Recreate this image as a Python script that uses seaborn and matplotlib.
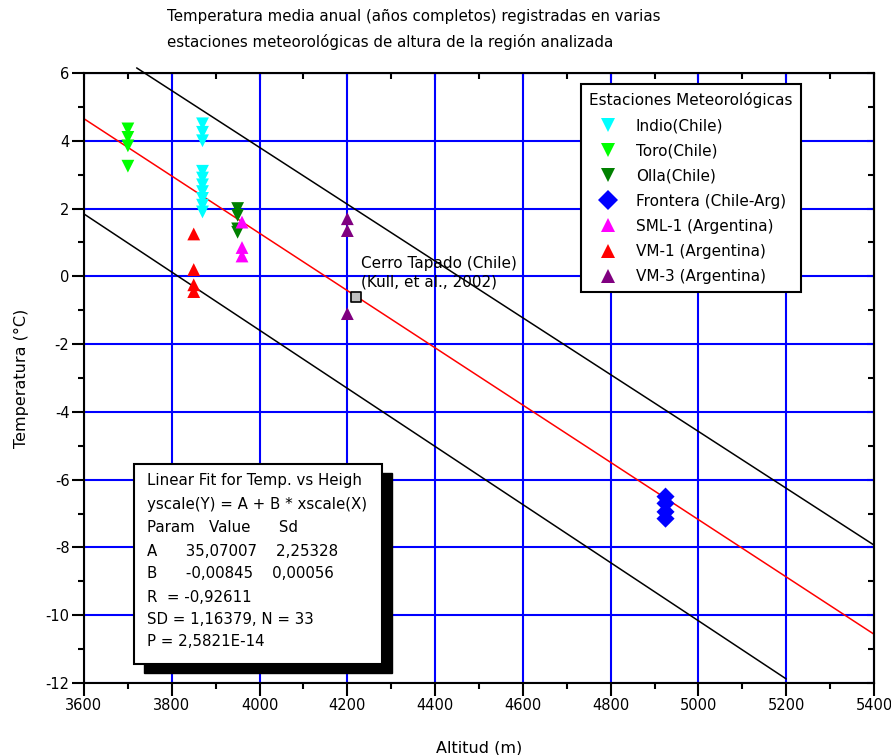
import numpy as np
import pandas as pd
import matplotlib
matplotlib.use("Agg")
import matplotlib.pyplot as plt
import seaborn as sns
from matplotlib.lines import Line2D
from matplotlib.patches import Rectangle
from matplotlib.ticker import MultipleLocator

# ---------------- data ----------------
stations = ["Indio(Chile)", "Toro(Chile)", "Olla(Chile)", "Frontera (Chile-Arg)",
            "SML-1 (Argentina)", "VM-1 (Argentina)", "VM-3 (Argentina)"]
station_alt = [3870, 3700, 3950, 4925, 3960, 3850, 4200]
indio_temp = [4.5, 4.25, 4.0, 3.1, 2.9, 2.7, 2.5, 2.3, 2.1, 1.9]
toro_temp = [4.35, 4.1, 3.85, 3.25]
olla_temp = [2.0, 1.8, 1.4, 1.3]
frontera_temp = [-6.5, -6.7, -6.95, -7.15]
sml_temp = [1.6, 0.85, 0.6]
vm1_temp = [1.25, 0.2, -0.25, -0.45]
vm3_temp = [1.7, 1.35, -1.1]
station_temps = [indio_temp, toro_temp, olla_temp, frontera_temp, sml_temp, vm1_temp, vm3_temp]

colors = ["#00FFFF", "#00FF00", "#008000", "#0000FF", "#FF00FF", "#FF0000", "#800080"]
markers = ["v", "v", "v", "D", "^", "^", "^"]

cerro_alt = [4220]
cerro_temp = [-0.6]

fit_A = 35.07007
fit_B = -0.00845
fit_alt = [3600, 5400]

upper_alt = [3720, 5400]
upper_temp = [6.15, -7.93]
lower_alt = [3600, 5200]
lower_temp = [1.84, -11.88]

x_ticks = [3600, 3800, 4000, 4200, 4400, 4600, 4800, 5000, 5200, 5400]
y_ticks = [6, 4, 2, 0, -2, -4, -6, -8, -10, -12]

fit_text = ["Linear Fit for Temp. vs Heigh",
            "yscale(Y) = A + B * xscale(X)",
            "Param   Value      Sd",
            "A      35,07007    2,25328",
            "B      -0,00845    0,00056",
            "R  = -0,92611",
            "SD = 1,16379, N = 33",
            "P = 2,5821E-14"]

# ---------------- build table ----------------
rows = []
for name, alt, temps in zip(stations, station_alt, station_temps):
    for t in temps:
        rows.append({"Altitud": alt, "Temperatura": t, "Estacion": name})
df = pd.DataFrame(rows)

sns.set_style("white")
plt.rcParams["font.family"] = ["DejaVu Sans"]
plt.rcParams["axes.unicode_minus"] = False
plt.rcParams["text.color"] = "black"
plt.rcParams["axes.labelcolor"] = "black"
plt.rcParams["xtick.color"] = "black"
plt.rcParams["ytick.color"] = "black"

fig = plt.figure(figsize=(8.91, 7.55), dpi=100)
ax = fig.add_axes([84 / 891, 1 - 683 / 755, 790 / 891, 610 / 755])

# grid
ax.set_xlim(3600, 5400)
ax.set_ylim(-12, 6)
ax.set_xticks(x_ticks)
ax.set_yticks(y_ticks)
ax.xaxis.set_minor_locator(MultipleLocator(100))
ax.yaxis.set_minor_locator(MultipleLocator(1))
ax.grid(True, which="major", color="#0000FF", linewidth=1.5, zorder=0)
ax.set_axisbelow(True)

# fit line & bands
fit_df = pd.DataFrame({"Altitud": fit_alt,
                       "Temperatura": [fit_A + fit_B * a for a in fit_alt]})
sns.lineplot(data=fit_df, x="Altitud", y="Temperatura", color="#FF0000", lw=1.1, ax=ax, zorder=2)
ax.plot(upper_alt, upper_temp, color="black", lw=1.1, zorder=2, clip_on=False)
ax.plot(lower_alt, lower_temp, color="black", lw=1.1, zorder=2)

# stations
sns.scatterplot(data=df, x="Altitud", y="Temperatura", hue="Estacion", style="Estacion",
                hue_order=stations, style_order=stations,
                palette=dict(zip(stations, colors)), markers=dict(zip(stations, markers)),
                s=85, linewidth=0, legend=False, ax=ax, zorder=3)

# Cerro Tapado
ax.scatter(cerro_alt, cerro_temp, marker="s", s=55, color="#C0C0C0",
           edgecolor="black", linewidth=1.2, zorder=4)
ax.text(cerro_alt[0] + 12, cerro_temp[0] + 1.2, "Cerro Tapado (Chile)\n(Kull, et al., 2002)",
        fontsize=11, va="top", ha="left", linespacing=1.3, zorder=5)

# legend
handles = [Line2D([], [], linestyle="none", marker=m, color=c, markersize=10, markeredgewidth=0)
           for m, c in zip(markers, colors)]
leg = ax.legend(handles, stations, title="Estaciones Meteorológicas", loc="upper left",
                bbox_to_anchor=((581 - 84) / 790, (683 - 84) / 610), fontsize=11,
                title_fontsize=11, frameon=True, fancybox=False, framealpha=1,
                edgecolor="black", borderpad=0.55, labelspacing=0.66, handletextpad=1.0,
                handlelength=1.6, borderaxespad=0)
leg.get_frame().set_linewidth(1.5)
leg.set_zorder(10)

# axis styling
for s in ax.spines.values():
    s.set_visible(True)
    s.set_color("black")
    s.set_linewidth(1.5)
ax.tick_params(which="both", direction="out", bottom=True, left=True, top=False, right=False,
               color="black", width=1.5, labelsize=10.5, pad=1.5)
ax.tick_params(which="major", length=9)
ax.tick_params(which="minor", length=4.5)
ax2x = ax.secondary_xaxis("top")
ax2x.set_xticks(x_ticks)
ax2x.xaxis.set_minor_locator(MultipleLocator(100))
ax2x.tick_params(which="both", direction="in", labeltop=False, width=1.5)
ax2x.tick_params(which="major", length=5)
ax2x.tick_params(which="minor", length=4)
ax2y = ax.secondary_yaxis("right")
ax2y.set_yticks(y_ticks)
ax2y.yaxis.set_minor_locator(MultipleLocator(1))
ax2y.tick_params(which="both", direction="in", labelright=False, width=1.5)
ax2y.tick_params(which="major", length=5)
ax2y.tick_params(which="minor", length=4)

ax.set_xlabel("Altitud (m)", fontsize=11.5, labelpad=20)
ax.set_ylabel("Temperatura (°C)", fontsize=11.5, labelpad=12)

# title
fig.text(167 / 891, 1 - 17 / 755, "Temperatura media anual (años completos) registradas en varias",
         fontsize=10.8, ha="left", va="center")
fig.text(167 / 891, 1 - 42 / 755, "estaciones meteorológicas de altura de la región analizada",
         fontsize=10.8, ha="left", va="center")

# fit result box with shadow
bx, by, bw, bh = 134 / 891, 1 - 664 / 755, 248 / 891, 200 / 755
fig.add_artist(Rectangle((bx + 10 / 891, by - 9 / 755), bw, bh, transform=fig.transFigure,
                         facecolor="black", edgecolor="black", zorder=20))
fig.add_artist(Rectangle((bx, by), bw, bh, transform=fig.transFigure,
                         facecolor="white", edgecolor="black", linewidth=1.5, zorder=21))
line_y = [481, 504, 528, 552, 573, 597, 619, 642]
for txt, py in zip(fit_text, line_y):
    fig.text(147 / 891, 1 - py / 755, txt, fontsize=10.8, ha="left", va="center", zorder=22)

fig.savefig("out.png", dpi=100)
